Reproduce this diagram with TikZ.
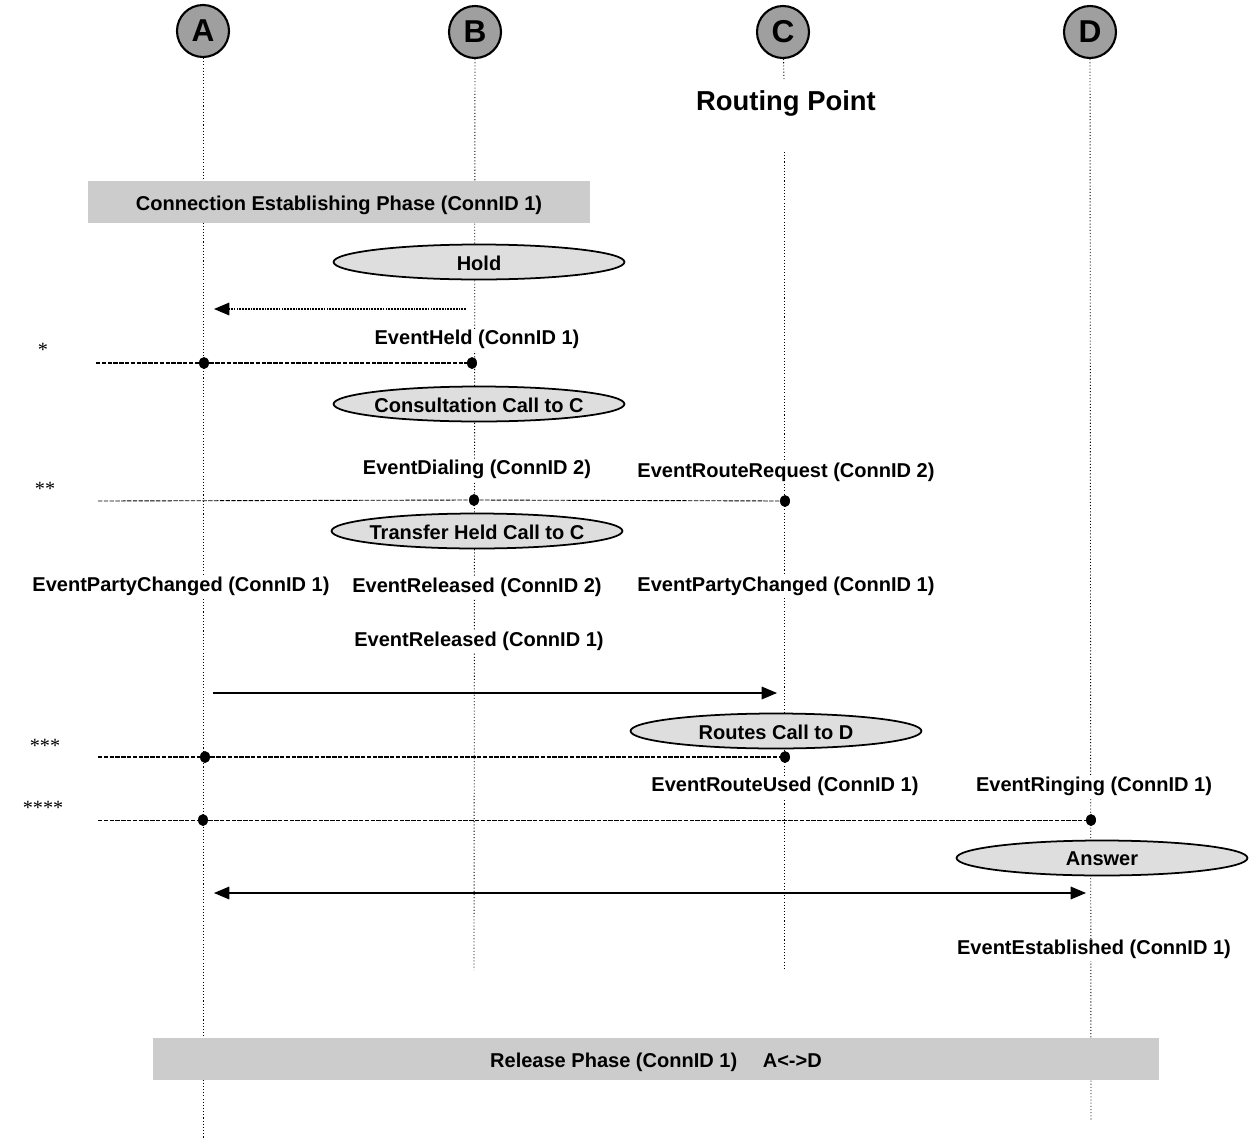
\documentclass[tikz,border=0pt]{standalone}
\usepackage{fontspec}
\setmainfont{Liberation Sans}
\newfontfamily\starfont{Liberation Serif}
\usetikzlibrary{shapes.geometric, arrows}
\newcommand{\msgfont}{\fontsize{11.4}{13}\selectfont\bfseries}
\newcommand{\acttext}[1]{\makebox[0pt]{\raisebox{-1pt}{#1}}}
\newcommand{\phasetext}[1]{\raisebox{-1.2pt}{#1}}
\tikzstyle{party} = [circle, 
minimum size=1.04cm, 
inner sep=0pt, 
draw=black, 
line width=1.2pt, 
fill=gray!75, 
font=\fontsize{18}{20}\selectfont\bfseries]
\tikzstyle{phase} = [rectangle, 
minimum height=0.84cm, 
text depth=0pt, 
fill=black!20, 
font=\msgfont]
\tikzstyle{action} = [ellipse, 
minimum width=5.82cm, 
minimum height=0.7cm, 
inner sep=0pt, 
text depth=0pt, 
draw=black, 
line width=1pt, 
fill=black!13, 
font=\msgfont]
\tikzstyle{event} = [fill=white, inner sep=1pt, yshift=-1pt, font=\msgfont]
\tikzstyle{starmark} = [font=\starfont\fontsize{11.5}{12}\selectfont]
\tikzstyle{dot} = [ellipse, fill=black, minimum width=0.2cm, minimum height=0.24cm, inner sep=0pt]
\tikzstyle{life} = [line width=0.5pt, dash pattern=on 0.6pt off 1.2pt]
\tikzstyle{report} = [line width=0.6pt, dash pattern=on 2.5pt off 0.8pt]
\tikzstyle{arrow} = [line width=1pt, -triangle 45]

\begin{document}
\begin{tikzpicture}[x=0.02cm, y=-0.02cm]
  \useasboundingbox (0,0) rectangle (1249,1140);

  % parties
  \node (A) [party] at (203,31) {A};
  \node (B) [party] at (475,32) {B};
  \node (C) [party] at (783,32) {C};
  \node (D) [party] at (1090,32) {D};

  % lifelines
  \coordinate (Aend) at (203,1140);
  \coordinate (Bend) at (474,970);
  \coordinate (Cgap) at (784,80);
  \coordinate (Cres) at (784,152);
  \coordinate (Cend) at (784,970);
  \coordinate (Dend) at (1091,1120);
  \draw [life] (A) -- (Aend);
  \draw [life] (B) -- (Bend);
  \draw [life] (C) -- (Cgap);
  \draw [life] (Cres) -- (Cend);
  \draw [life] (D) -- (Dend);

  \node (rp) [font=\fontsize{15.6}{18}\selectfont\bfseries] at (786,103) {Routing Point};

  \node (estab) [phase, minimum width=10.06cm] at (339,202) {\phasetext{Connection Establishing Phase (ConnID 1)}};

  % hold
  \node (hold) [action] at (479,262) {\acttext{Hold}};
  \coordinate (h1) at (466,309);
  \coordinate (h2) at (214,309);
  \draw [arrow, dash pattern=on 1pt off 0.6pt] (h1) -- (h2);
  \node (held) [event] at (477,338) {EventHeld (ConnID 1)};
  \node (m1) [starmark] at (43,350) {*};
  \coordinate (s1) at (96,363);
  \node (a1) [dot] at (204,363) {};
  \node (b1) [dot] at (472,363) {};
  \draw [report] (s1) -- (a1) -- (b1);

  % consultation
  \node (consult) [action] at (479,404) {\acttext{Consultation Call to C}};
  \node (dial) [event] at (477,468) {EventDialing (ConnID 2)};
  \node (rreq) [event] at (786,471) {EventRouteRequest (ConnID 2)};
  \node (m2) [starmark] at (45,489) {**};
  \coordinate (s2) at (98,501);
  \node (b2) [dot] at (474,500) {};
  \node (c2) [dot] at (785,501) {};
  \draw [report, line width=0.5pt] (s2) -- (b2) -- (c2);

  % transfer
  \node (transfer) [action] at (477,531) {\acttext{Transfer Held Call to C}};
  \node (pcA) [event] at (181,585) {EventPartyChanged (ConnID 1)};
  \node (rel2) [event] at (477,586) {EventReleased (ConnID 2)};
  \node (pcC) [event] at (786,585) {EventPartyChanged (ConnID 1)};
  \node (rel1) [event] at (479,640) {EventReleased (ConnID 1)};
  \coordinate (t1) at (213,693);
  \coordinate (t2) at (777,693);
  \draw [arrow] (t1) -- (t2);

  % routing
  \node (route) [action] at (776,731) {\acttext{Routes Call to D}};
  \node (m3) [starmark] at (45,746) {***};
  \coordinate (s3) at (98,757);
  \node (a3) [dot] at (205,757) {};
  \node (c3) [dot] at (785,757) {};
  \draw [report] (s3) -- (a3) -- (c3);
  \node (used) [event] at (785,785) {EventRouteUsed (ConnID 1)};
  \node (ring) [event] at (1094,785) {EventRinging (ConnID 1)};
  \node (m4) [starmark] at (43,808) {****};
  \coordinate (s4) at (98,820);
  \node (a4) [dot] at (203,820) {};
  \node (d4) [dot] at (1091,820) {};
  \draw [report, line width=0.5pt] (s4) -- (a4) -- (d4);

  % answer
  \node (answer) [action] at (1102,858) {\acttext{Answer}};
  \coordinate (u1) at (214,893);
  \coordinate (u2) at (1086,893);
  \draw [arrow, triangle 45-triangle 45] (u1) -- (u2);
  \node (estd) [event] at (1094,948) {EventEstablished (ConnID 1)};

  \node (release) [phase, minimum width=20.12cm] at (656,1059) {\phasetext{Release Phase (ConnID 1)\quad\ A<->D}};
\end{tikzpicture}
\end{document}
